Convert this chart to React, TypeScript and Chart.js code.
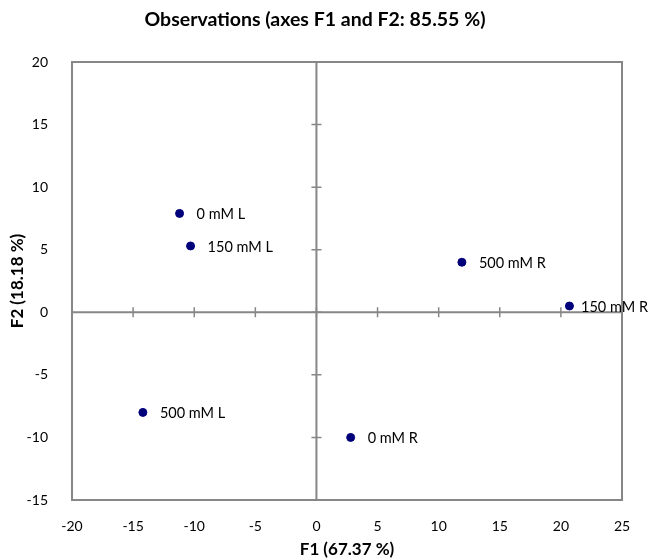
import React, { useEffect, useRef } from "react";
import { Chart, registerables } from "chart.js";

Chart.register(...registerables);

const observationLabels = ["0 mM L", "150 mM L", "500 mM R", "150 mM R", "500 mM L", "0 mM R"];
const f1Values = [-11.2, -10.3, 11.9, 20.7, -14.2, 2.8];
const f2Values = [7.9, 5.3, 4.0, 0.5, -8.0, -10.0];
const xTicks = [-20, -15, -10, -5, 0, 5, 10, 15, 20, 25];
const yTicks = [-15, -10, -5, 0, 5, 10, 15, 20];

const FONT = "Lato, 'Open Sans', sans-serif";
const AXIS_COLOR = "#878787";

const decorPlugin = {
  id: "decor",
  beforeDatasetsDraw(chart: any) {
    const { ctx, chartArea: a, scales } = chart;
    const xs = scales.x;
    const ys = scales.y;
    ctx.save();
    ctx.strokeStyle = AXIS_COLOR;
    ctx.lineWidth = 2;
    ctx.strokeRect(a.left, a.top, a.right - a.left, a.bottom - a.top);
    const x0 = xs.getPixelForValue(0);
    const y0 = ys.getPixelForValue(0);
    ctx.beginPath();
    ctx.moveTo(x0, a.top);
    ctx.lineTo(x0, a.bottom);
    ctx.moveTo(a.left, y0);
    ctx.lineTo(a.right, y0);
    ctx.stroke();
    ctx.lineWidth = 1.5;
    ctx.beginPath();
    for (const t of xTicks) {
      const px = xs.getPixelForValue(t);
      ctx.moveTo(px, y0 - 5);
      ctx.lineTo(px, y0 + 5);
    }
    for (const t of yTicks) {
      const py = ys.getPixelForValue(t);
      ctx.moveTo(x0 - 5, py);
      ctx.lineTo(x0 + 5, py);
    }
    ctx.stroke();
    // title
    ctx.fillStyle = "#000";
    ctx.font = `bold 19.5px ${FONT}`;
    ctx.textAlign = "center";
    ctx.textBaseline = "middle";
    ctx.fillText("Observations (axes F1 and F2: 85.55 %)", 315, 20);
    ctx.restore();
  },
  afterDatasetsDraw(chart: any) {
    const { ctx } = chart;
    const meta = chart.getDatasetMeta(0);
    ctx.save();
    ctx.fillStyle = "#000";
    ctx.font = `14.5px ${FONT}`;
    ctx.textAlign = "left";
    ctx.textBaseline = "middle";
    meta.data.forEach((el: any, i: number) => {
      const w = ctx.measureText(observationLabels[i]).width;
      const x = Math.min(el.x + 17, chart.width - 1 - w);
      ctx.fillText(observationLabels[i], x, el.y + 1);
    });
    ctx.restore();
  },
};

export default function App() {
  const ref = useRef<HTMLCanvasElement | null>(null);
  useEffect(() => {
    document.body.style.margin = "0";
    if (!ref.current) return;
    const chart = new Chart(ref.current, {
      type: "scatter",
      data: {
        datasets: [
          {
            label: "Observations",
            data: f1Values.map((x, i) => ({ x, y: f2Values[i] })),
            backgroundColor: "#00007a",
            borderColor: "#00007a",
            pointRadius: 4,
            pointHoverRadius: 4,
          },
        ],
      },
      options: {
        animation: false,
        responsive: false,
        maintainAspectRatio: false,
        layout: { padding: { top: 62, right: 27, left: 0, bottom: 0 } },
        plugins: {
          legend: { display: false },
          title: { display: false },
          tooltip: { enabled: false },
        },
        scales: {
          x: {
            type: "linear",
            min: -20,
            max: 25,
            afterBuildTicks: (s: any) => {
              s.ticks = xTicks.map((v) => ({ value: v }));
            },
            afterFit: (s: any) => {
              s.height = 60;
            },
            grid: { display: false },
            border: { display: false },
            ticks: {
              color: "#000",
              font: { family: FONT, size: 14 },
              padding: 10,
              maxRotation: 0,
            },
            title: {
              display: true,
              text: "F1 (67.37 %)",
              color: "#000",
              font: { family: FONT, size: 17, weight: "bold" },
              padding: { top: 4, bottom: 0 },
            },
          },
          y: {
            type: "linear",
            min: -15,
            max: 20,
            afterBuildTicks: (s: any) => {
              s.ticks = yTicks.map((v) => ({ value: v }));
            },
            afterFit: (s: any) => {
              s.width = 72;
            },
            grid: { display: false },
            border: { display: false },
            ticks: {
              color: "#000",
              font: { family: FONT, size: 14 },
              padding: 16,
            },
            title: {
              display: true,
              text: "F2 (18.18 %)",
              color: "#000",
              font: { family: FONT, size: 17, weight: "bold" },
              padding: { top: 7, bottom: 0 },
            },
          },
        },
      },
      plugins: [decorPlugin],
    } as any);
    return () => chart.destroy();
  }, []);
  return (
    <div style={{ width: 649, height: 560 }}>
      <canvas ref={ref} width={649} height={560} style={{ display: "block" }} />
    </div>
  );
}
